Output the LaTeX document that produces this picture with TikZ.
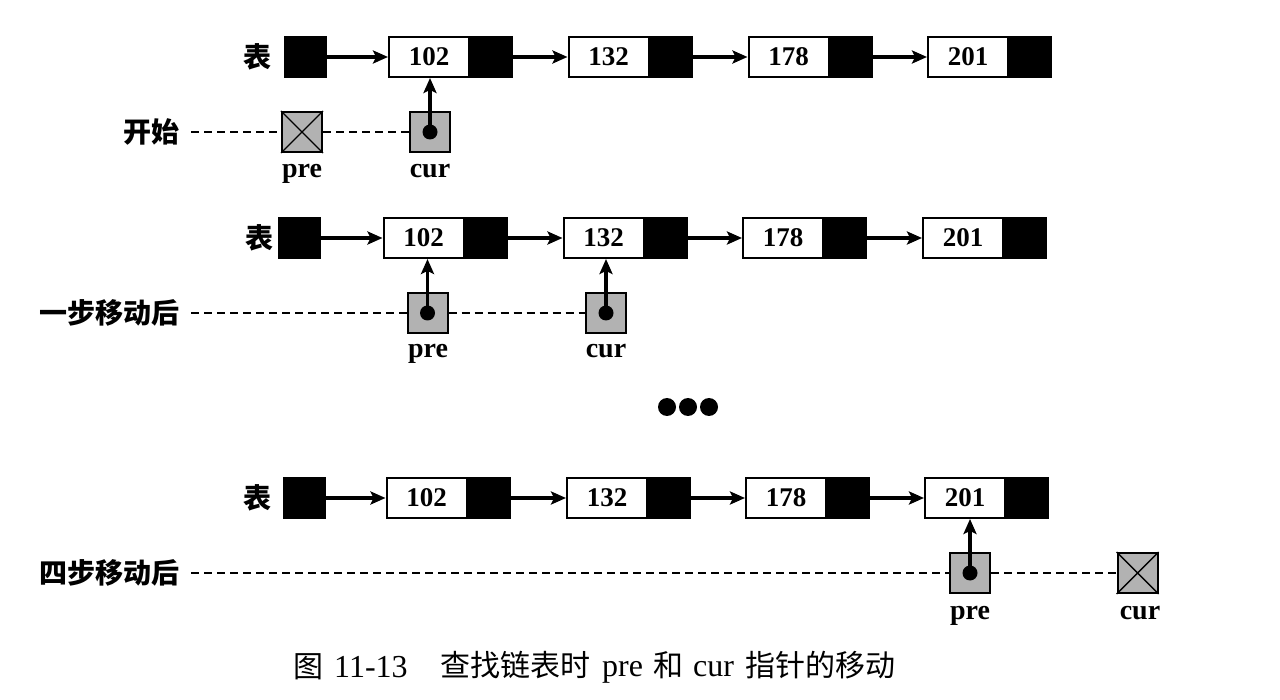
\documentclass[tikz,border=0pt]{standalone}
\usepackage{fontspec}
\setmainfont{Liberation Serif}
\newfontfamily\cjk{Noto Sans CJK SC}
\usetikzlibrary{arrows.meta}
\tikzset{
  val/.style={draw, line width=2pt, fill=white, minimum width=80pt, minimum height=40pt, inner sep=0pt, font=\fontsize{27}{27}\selectfont\bfseries},
  ptrc/.style={draw, line width=2pt, fill=black, minimum width=41pt, minimum height=40pt, inner sep=0pt, anchor=west},
  headbox/.style={draw, line width=2pt, fill=black, minimum width=41pt, minimum height=40pt, inner sep=0pt},
  pbox/.style={draw, line width=2pt, fill=gray!60, minimum size=40pt, inner sep=0pt},
  pdot/.style={circle, fill=black, minimum size=15pt, inner sep=0pt},
  link/.style={line width=3.2pt, -{Stealth[length=15pt,width=13pt,inset=3pt]}},
  guide/.style={dash pattern=on 8pt off 5pt, line width=2pt},
  cjklab/.style={font=\cjk\bfseries\fontsize{28}{28}\selectfont, inner sep=0pt},
  ptrlab/.style={font=\fontsize{28}{28}\selectfont\bfseries, inner sep=0pt, anchor=base},
  bigdot/.style={circle, fill=black, minimum size=18pt, inner sep=0pt},
  captext/.style={anchor=west, inner sep=0pt, font=\fontsize{32}{32}\selectfont},
}
\newcommand{\cj}[1]{{\cjk\fontsize{30}{30}\selectfont #1}}
\begin{document}
\begin{tikzpicture}[x=1pt,y=-1pt]
\useasboundingbox (0,0) rectangle (1280,700);

% ---------- Row 1 ----------
\node[cjklab] (t1) at (257,57) {表};
\node[headbox] (h1) at (305,57) {};
\node[val] (a1) at (429,57) {102}; \node[ptrc] (a1p) at (a1.east) {};
\node[val] (b1) at (608.5,57) {132}; \node[ptrc] (b1p) at (b1.east) {};
\node[val] (c1) at (788.5,57) {178}; \node[ptrc] (c1p) at (c1.east) {};
\node[val] (d1) at (968,57) {201}; \node[ptrc] (d1p) at (d1.east) {};
\draw[link] (h1.east) -- (a1.west);
\draw[link] (a1p.east) -- (b1.west);
\draw[link] (b1p.east) -- (c1.west);
\draw[link] (c1p.east) -- (d1.west);

\node[cjklab, anchor=east] (s1) at (180,132) {开始};
\node[pbox] (pre1) at (302,132) {};
\node[pbox] (cur1) at (430,132) {};
\draw[guide] (s1.east) ++(11,0) coordinate (s1g) -- (pre1.west);
\draw[guide] (pre1.east) -- (cur1.west);
\draw[line width=1.4pt] (pre1.north west) -- (pre1.south east) (pre1.north east) -- (pre1.south west);
\node[pdot] (cur1d) at (cur1.center) {};
\draw[link] (cur1d.center) -- (cur1d.center |- a1.south);
\node[ptrlab] (pre1l) at (302,178) {pre};
\node[ptrlab] (cur1l) at (430,178) {cur};

% ---------- Row 2 ----------
\node[cjklab] (t2) at (259,238) {表};
\node[headbox] (h2) at (299.5,238) {};
\node[val] (a2) at (423.5,238) {102}; \node[ptrc] (a2p) at (a2.east) {};
\node[val] (b2) at (603.5,238) {132}; \node[ptrc] (b2p) at (b2.east) {};
\node[val] (c2) at (783,238) {178}; \node[ptrc] (c2p) at (c2.east) {};
\node[val] (d2) at (963,238) {201}; \node[ptrc] (d2p) at (d2.east) {};
\draw[link] (h2.east) -- (a2.west);
\draw[link] (a2p.east) -- (b2.west);
\draw[link] (b2p.east) -- (c2.west);
\draw[link] (c2p.east) -- (d2.west);

\node[cjklab, anchor=east] (s2) at (180,313) {一步移动后};
\node[pbox] (pre2) at (427.5,313) {};
\node[pbox] (cur2) at (606,313) {};
\draw[guide] (s2.east) ++(11,0) coordinate (s2g) -- (pre2.west);
\draw[guide] (pre2.east) -- (cur2.west);
\node[pdot] (pre2d) at (pre2.center) {};
\node[pdot] (cur2d) at (cur2.center) {};
\draw[link] (pre2d.center) -- (pre2d.center |- a2.south);
\draw[link] (cur2d.center) -- (cur2d.center |- b2.south);
\node[ptrlab] (pre2l) at (428,358) {pre};
\node[ptrlab] (cur2l) at (606,358) {cur};

% ---------- dots ----------
\node[bigdot] (e1) at (667,407) {};
\node[bigdot] (e2) at (688,407) {};
\node[bigdot] (e3) at (709,407) {};

% ---------- Row 3 ----------
\node[cjklab] (t3) at (257,498) {表};
\node[headbox] (h3) at (304.5,498) {};
\node[val] (a3) at (426.5,498) {102}; \node[ptrc] (a3p) at (a3.east) {};
\node[val] (b3) at (607,498) {132}; \node[ptrc] (b3p) at (b3.east) {};
\node[val] (c3) at (786,498) {178}; \node[ptrc] (c3p) at (c3.east) {};
\node[val] (d3) at (965,498) {201}; \node[ptrc] (d3p) at (d3.east) {};
\draw[link] (h3.east) -- (a3.west);
\draw[link] (a3p.east) -- (b3.west);
\draw[link] (b3p.east) -- (c3.west);
\draw[link] (c3p.east) -- (d3.west);

\node[cjklab, anchor=east] (s3) at (180,573) {四步移动后};
\node[pbox] (pre3) at (970,573) {};
\node[pbox] (cur3) at (1137.5,573) {};
\draw[guide] (s3.east) ++(11,0) coordinate (s3g) -- (pre3.west);
\draw[guide] (pre3.east) -- (cur3.west);
\draw[line width=1.4pt] (cur3.north west) -- (cur3.south east) (cur3.north east) -- (cur3.south west);
\node[pdot] (pre3d) at (pre3.center) {};
\draw[link] (pre3d.center) -- (pre3d.center |- d3.south);
\node[ptrlab] (pre3l) at (970,619) {pre};
\node[ptrlab] (cur3l) at (1140,619) {cur};

% ---------- caption ----------
\node[captext] (cap1) at (293,667) {\cj{图}\hspace{3pt} 11-13};
\node[captext] (cap2) at (440,667) {\cj{查找链表时}\hspace{4pt} pre\hspace{2pt} \cj{和}\hspace{2pt} cur\hspace{4pt} \cj{指针的移动}};
\end{tikzpicture}
\end{document}
